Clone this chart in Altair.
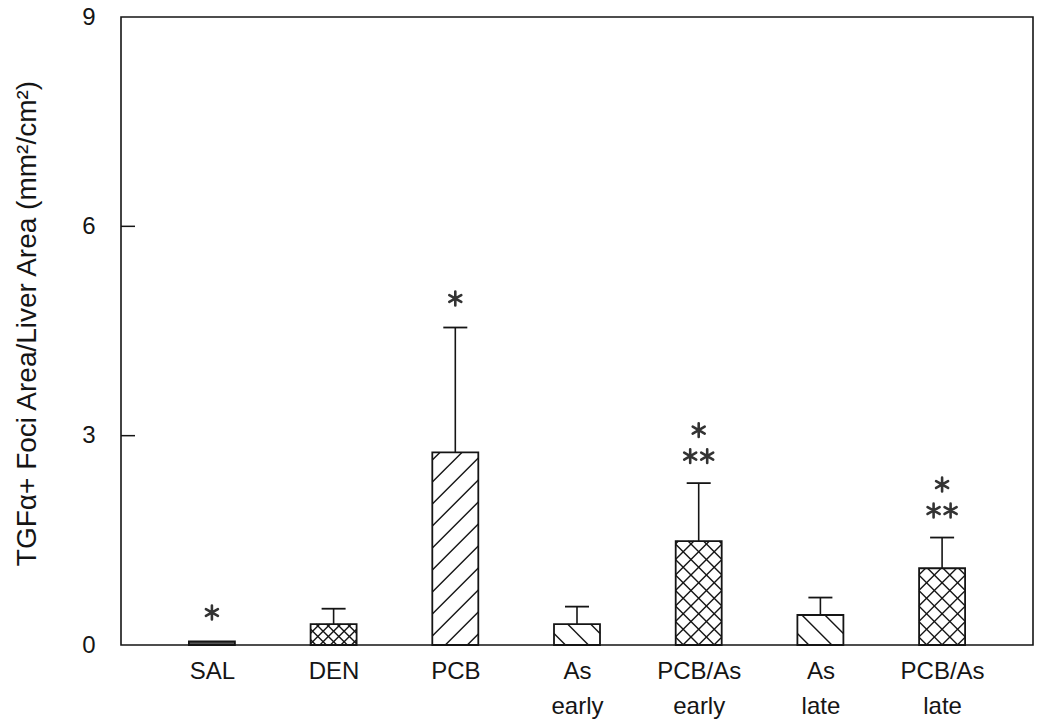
import json
import altair as alt
import pandas as pd

# ---- data ----
categories = ["SAL", "DEN", "PCB", "As\nearly", "PCB/As\nearly", "As\nlate", "PCB/As\nlate"]
means = [0.05, 0.30, 2.76, 0.30, 1.49, 0.43, 1.10]
errors = [0.0, 0.22, 1.79, 0.25, 0.83, 0.25, 0.44]
patterns = ["solid", "cross_fine", "slash", "backslash", "cross", "backslash", "cross"]
stars_row0 = [1, 0, 1, 0, 2, 0, 2]   # asterisks just above the error bar
stars_row1 = [0, 0, 0, 0, 1, 0, 1]   # asterisks on the line above
y_ticks = [0, 3, 6, 9]
y_title = "TGF\u03b1+ Foci Area/Liver Area (mm\u00b2/cm\u00b2)"

# ---- layout / style ----
W, H = 912, 628
X_DOM = [-0.747, 6.747]
Y_DOM = [0, 9]
SX = W / (X_DOM[1] - X_DOM[0])   # px per x unit
SY = H / (Y_DOM[1] - Y_DOM[0])   # px per y unit
BAR_HALF_PX = 23
HW = BAR_HALF_PX / SX
CAP_HW = 12 / SX
INK = "#151515"
FONT = "Liberation Sans"
spacing = {"cross_fine": 10.5, "slash": 22, "backslash": 23, "cross": 15.5}
ASTERISK = "M0,-1L0,1M-0.87,-0.5L0.87,0.5M-0.87,0.5L0.87,-0.5"

idx = list(range(len(categories)))
bars = pd.DataFrame({
    "i": idx,
    "x0": [i - HW for i in idx],
    "x1": [i + HW for i in idx],
    "mean": means,
    "upper": [m + e for m, e in zip(means, errors)],
    "err": errors,
    "pattern": patterns,
    "row0": stars_row0,
    "row1": stars_row1,
})
bars["fill"] = ["#555555" if p == "solid" else "white" for p in patterns]
bars["cx0"] = bars["i"] - CAP_HW
bars["cx1"] = bars["i"] + CAP_HW


def hatch_segments(i, h, kind, p):
    segs = []
    w = 2 * BAR_HALF_PX
    Hp = h * SY
    left = i - HW

    def add(u0, v0, u1, v1):
        segs.append({"x": left + u0 / SX, "y": v0 / SY, "x2": left + u1 / SX, "y2": v1 / SY})

    if kind in ("slash", "cross", "cross_fine"):
        c = -w + (p * 0.5)
        while c < Hp:
            u0 = max(0, -c)
            u1 = min(w, Hp - c)
            if u1 > u0 + 0.5:
                add(u0, u0 + c, u1, u1 + c)
            c += p
    if kind in ("backslash", "cross", "cross_fine"):
        c = p * 0.5
        while c < Hp + w:
            u0 = max(0, c - Hp)
            u1 = min(w, c)
            if u1 > u0 + 0.5:
                add(u0, c - u0, u1, c - u1)
            c += p
    return segs


hatch_rows = []
for i, m, pat in zip(idx, means, patterns):
    if pat in spacing:
        hatch_rows += hatch_segments(i, m, pat, spacing[pat])
hatch = pd.DataFrame(hatch_rows)

xscale = alt.Scale(domain=X_DOM, nice=False, zero=False)
yscale = alt.Scale(domain=Y_DOM, nice=False)

label_lists = [c.split("\n") for c in categories]
x_axis = alt.Axis(
    values=idx, labelExpr=json.dumps(label_lists) + "[datum.value]",
    title=None, ticks=False, domain=False, grid=False,
    labelFont=FONT, labelFontSize=24, labelColor=INK, labelLineHeight=35,
    labelPadding=14, labelOverlap=False, labelFlush=False,
)
y_axis = alt.Axis(
    values=y_ticks, format="d", title=y_title, ticks=False, domain=False, grid=False,
    labelFont=FONT, labelFontSize=24, labelColor=INK, labelPadding=26,
    titleFont=FONT, titleFontSize=28, titleFontWeight="normal", titleColor=INK,
    titleAngle=-90, titleAlign="center", titleBaseline="alphabetic",
    titleX=-86, titleY=306,
)

base = alt.Chart(bars)

bar_fill = base.mark_rect(strokeWidth=0).encode(
    x=alt.X("x0:Q", scale=xscale, axis=x_axis),
    x2="x1:Q",
    y=alt.Y("mean:Q", scale=yscale, axis=y_axis),
    y2=alt.datum(0),
    fill=alt.Fill("fill:N", scale=None),
)

hatch_layer = alt.Chart(hatch).mark_rule(color=INK, strokeWidth=1.4).encode(
    x=alt.X("x:Q", scale=xscale), x2="x2:Q",
    y=alt.Y("y:Q", scale=yscale), y2="y2:Q",
)

bar_outline = base.mark_rect(fill=None, fillOpacity=0, stroke=INK, strokeWidth=1.8).encode(
    x=alt.X("x0:Q", scale=xscale), x2="x1:Q",
    y=alt.Y("mean:Q", scale=yscale), y2=alt.datum(0),
)

err_data = base.transform_filter("datum.err > 0")
err_line = err_data.mark_rule(color=INK, strokeWidth=1.6).encode(
    x=alt.X("i:Q", scale=xscale),
    y=alt.Y("mean:Q", scale=yscale), y2="upper:Q",
)
err_cap = err_data.mark_rule(color=INK, strokeWidth=1.8).encode(
    x=alt.X("cx0:Q", scale=xscale), x2="cx1:Q",
    y=alt.Y("upper:Q", scale=yscale),
)


def star_layer(filter_expr, x_off, y_off):
    return base.transform_filter(filter_expr).mark_point(
        shape=ASTERISK, size=190, filled=False, stroke="#333", strokeWidth=2.6,
        strokeCap="round", xOffset=x_off, yOffset=y_off, opacity=1,
    ).encode(x=alt.X("i:Q", scale=xscale), y=alt.Y("upper:Q", scale=yscale))


stars = [
    star_layer("datum.row0 == 1", 0, -29),
    star_layer("datum.row0 == 2", -8.5, -27),
    star_layer("datum.row0 == 2", 8.5, -27),
    star_layer("datum.row1 == 1", 0, -53),
]

tick_df = pd.DataFrame({"v": y_ticks[1:-1]})
tick_df["x0"] = X_DOM[0]
tick_df["x1"] = X_DOM[0] + 14 / SX
ticks_in = alt.Chart(tick_df).mark_rule(color=INK, strokeWidth=1.5).encode(
    x=alt.X("x0:Q", scale=xscale), x2="x1:Q",
    y=alt.Y("v:Q", scale=yscale),
)

chart = alt.layer(
    bar_fill, hatch_layer, bar_outline, err_line, err_cap, *stars, ticks_in
).properties(
    width=W, height=H,
    autosize=alt.AutoSizeParams(type="none"),
    padding={"left": 121, "top": 17, "right": 4, "bottom": 81},
    background="white",
).configure_view(stroke=INK, strokeWidth=1.6)

chart.save("out.html", embed_options={"renderer": "svg", "actions": False})
